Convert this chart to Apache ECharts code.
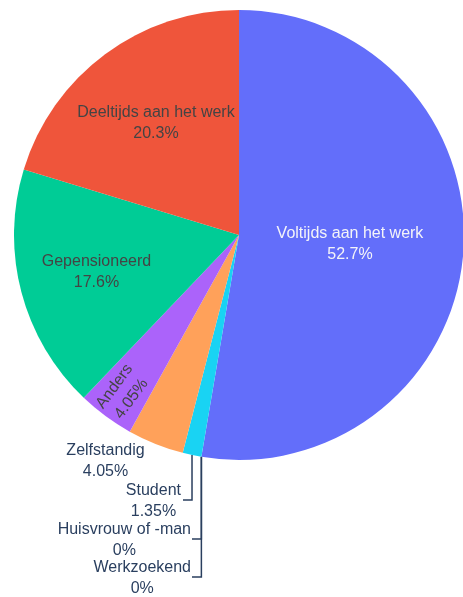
<!DOCTYPE html>
<html>
<head>
<meta charset="utf-8">
<script src="https://cdn.jsdelivr.net/npm/echarts@6/dist/echarts.min.js"></script>
<style>
html,body{margin:0;padding:0;background:#fff;}
#chart{width:463px;height:597px;}
</style>
</head>
<body>
<div id="chart"></div>
<script>
// Data (clockwise from 12 o'clock)
const categories = ['Voltijds aan het werk', 'Huisvrouw of -man', 'Werkzoekend', 'Student', 'Zelfstandig', 'Anders', 'Gepensioneerd', 'Deeltijds aan het werk'];
const percentages = [52.7, 0, 0, 1.35, 4.05, 4.05, 17.6, 20.3];
const colors = ['#636efa', '#ff6692', '#b6e880', '#19d3f3', '#ffa15a', '#ab63fa', '#00cc96', '#ef553b'];

const CX = 239, CY = 235, R = 225;
const FONT = '"Liberation Sans", Arial, sans-serif';

// label placement styles (not data)
const place = {
  'Voltijds aan het werk': {type: 'in', k: 0.495, color: '#f4f4f8'},
  'Deeltijds aan het werk': {type: 'in', k: 0.62, color: '#444444'},
  'Gepensioneerd': {type: 'in', k: 0.655, color: '#444444'},
  'Anders': {type: 'in', k: 0.87, color: '#444444', rotate: true},
  'Zelfstandig': {type: 'free', cx: 105.5, cy: 461},
  'Student': {type: 'out', lineY: 500, right: 181, lineEnd: 183},
  'Huisvrouw of -man': {type: 'out', lineY: 539, right: 191, lineEnd: 192},
  'Werkzoekend': {type: 'out', lineY: 577, right: 191, lineEnd: 192}
};

const total = percentages.reduce((a, b) => a + b, 0);
const midAngles = [];
let acc = 0;
percentages.forEach(v => {
  midAngles.push((acc + v / 2) / total * 2 * Math.PI);
  acc += v;
});

const data = categories.map((name, i) => {
  const p = place[name];
  const item = {name: name, value: percentages[i], itemStyle: {color: colors[i]}};
  if (p.type === 'in') {
    item.label = {position: 'inside', color: p.color};
    if (p.rotate) item.label.rotate = 'radial';
    item.labelLine = {show: false};
  } else if (p.type === 'free') {
    item.label = {position: 'outside', color: '#2a3f5f'};
    item.labelLine = {show: false};
  } else {
    item.label = {position: 'outside', color: '#2a3f5f'};
    item.labelLine = {show: true};
  }
  return item;
});

const chart = echarts.init(document.getElementById('chart'), null, {renderer: 'canvas'});
chart.setOption({
  animation: false,
  backgroundColor: '#ffffff',
  series: [{
    type: 'pie',
    center: [CX, CY],
    radius: [0, R],
    startAngle: 90,
    clockwise: true,
    avoidLabelOverlap: false,
    minAngle: 0,
    itemStyle: {borderWidth: 0},
    label: {
      show: true,
      formatter: p => p.name + '\n' + p.value + '%',
      fontFamily: FONT,
      fontSize: 16,
      lineHeight: 21,
      align: 'center'
    },
    labelLine: {
      show: true,
      length: 10,
      length2: 10,
      smooth: false,
      lineStyle: {color: '#2a3f5f', width: 1.5}
    },
    emphasis: {disabled: true},
    labelLayout: function (params) {
      const i = params.dataIndex;
      const name = categories[i];
      const p = place[name];
      const mid = midAngles[i];
      const dx = Math.sin(mid), dy = -Math.cos(mid);
      const w = params.labelRect.width;
      if (p.type === 'in') {
        return {x: CX + R * p.k * dx, y: CY + R * p.k * dy, align: 'center', verticalAlign: 'middle'};
      }
      if (p.type === 'free') {
        return {x: p.cx, y: p.cy, align: 'center', verticalAlign: 'middle'};
      }
      const ex = CX + R * dx, ey = CY + R * dy;
      return {
        x: p.right - w / 2,
        y: p.lineY + 1,
        align: 'center',
        verticalAlign: 'middle',
        labelLinePoints: [[ex, ey], [ex, p.lineY], [p.lineEnd, p.lineY]]
      };
    },
    data: data
  }]
});
</script>
</body>
</html>
